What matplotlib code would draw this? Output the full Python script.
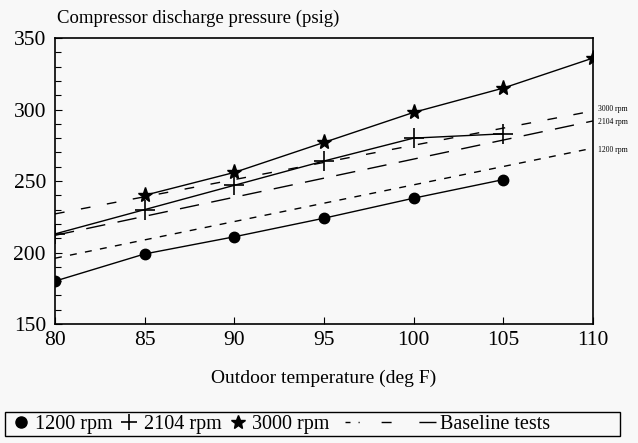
import matplotlib
matplotlib.use("Agg")
import matplotlib.pyplot as plt
from matplotlib.lines import Line2D
from matplotlib.patches import Rectangle

plt.rcParams['font.family'] = ['Liberation Serif', 'DejaVu Serif']

# test data (deg F -> psig)
temp_1200 = [80, 85, 90, 95, 100, 105]
psig_1200 = [180, 199, 211, 224, 238, 251]
temp_2104 = [80, 85, 90, 95, 100, 105]
psig_2104 = [213, 230, 247, 264, 280, 283]
temp_3000 = [85, 90, 95, 100, 105, 110]
psig_3000 = [240, 256, 277, 298, 315, 336]

# baseline test lines (end points)
base_temp = [80, 110]
base_3000 = [227, 299]
base_2104 = [212, 292]
base_1200 = [196, 273]
base_labels = ["3000 rpm", "2104 rpm", "1200 rpm"]

bg = '#f8f8f8'
fig = plt.figure(figsize=(6.38, 4.43), dpi=100, facecolor=bg)
ax = fig.add_axes([0.0862, 0.2686, 0.8433, 0.6456], facecolor=bg)

ax.plot(temp_1200, psig_1200, 'k-', lw=1, marker='o', ms=7.5)
ax.plot(temp_2104, psig_2104, 'k-', lw=1, marker='+', ms=14, mew=1.2)
ax.plot(temp_3000, psig_3000, 'k-', lw=1, marker='*', ms=11)

ax.plot(base_temp, base_3000, 'k', lw=1, dashes=(7, 12))
ax.plot(base_temp, base_2104, 'k', lw=1, dashes=(14, 9))
ax.plot(base_temp, base_1200, 'k', lw=1, dashes=(5, 6))

for lab, vals, dy in zip(base_labels, [base_3000, base_2104, base_1200], [1.5, -0.5, -1]):
    ax.text(110.3, vals[1] + dy, lab, fontsize=5.5, va='center', ha='left', clip_on=False)

ax.set_xlim(80, 110)
ax.set_ylim(150, 350)
ax.set_xticks([80, 85, 90, 95, 100, 105, 110])
ax.set_yticks([150, 200, 250, 300, 350])
ax.set_yticks(range(150, 351, 10), minor=True)
ax.tick_params(direction='in', labelsize=15.5, length=5, width=0.8)
ax.tick_params(axis='y', which='minor', direction='in', length=4, width=0.8)
ax.tick_params(axis='y', pad=6.5)
ax.tick_params(axis='x', pad=5)
for s in ax.spines.values():
    s.set_linewidth(1.2)

ax.set_xlabel("Outdoor temperature (deg F)", fontsize=14, labelpad=14)
fig.text(0.09, 0.959, "Compressor discharge pressure (psig)", fontsize=13.5, ha='left', va='center')

# legend box
fig.patches.append(Rectangle((0.0078, 0.0158), 0.964, 0.054, transform=fig.transFigure,
                             fill=False, edgecolor='k', lw=1))
handles = [Line2D([], [], color='k', marker='o', ls='none', ms=8),
           Line2D([], [], color='k', marker='+', ls='none', ms=11, mew=1.2),
           Line2D([], [], color='k', marker='*', ls='none', ms=10)]
leg1 = fig.legend(handles, ["1200 rpm", "2104 rpm", "3000 rpm"], ncol=3, frameon=False,
                  loc='center left', bbox_to_anchor=(0.0165, 0.041), fontsize=14.5,
                  handlelength=1.0, handletextpad=0.2, columnspacing=0.35,
                  borderpad=0, borderaxespad=0)
base_handle = Line2D([], [], color='k', lw=1, dashes=(3.6, 5.8, 0.8, 15.8, 7.2, 20, 13.7, 5))
leg2 = fig.legend([base_handle], ["Baseline tests"], frameon=False,
                  loc='center left', bbox_to_anchor=(0.5408, 0.041), fontsize=14.5,
                  handlelength=4.5, handletextpad=0.2, borderpad=0, borderaxespad=0)

fig.savefig("out.png", dpi=100, facecolor=bg)
